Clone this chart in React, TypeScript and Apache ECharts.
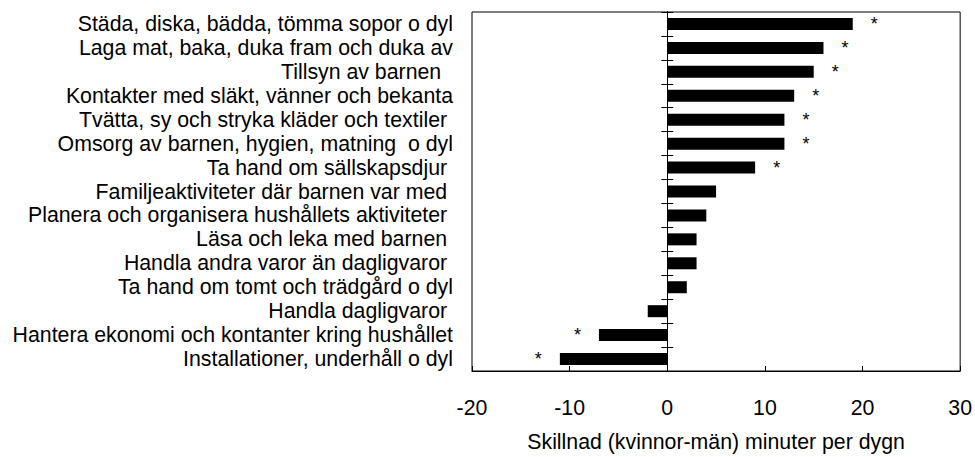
import React, { useEffect, useRef } from "react";
import * as echarts from "echarts";

const categories = [
  "Städa, diska, bädda, tömma sopor o dyl",
  "Laga mat, baka, duka fram och duka av",
  "Tillsyn av barnen  ",
  "Kontakter med släkt, vänner och bekanta",
  "Tvätta, sy och stryka kläder och textiler ",
  "Omsorg av barnen, hygien, matning  o dyl",
  "Ta hand om sällskapsdjur ",
  "Familjeaktiviteter där barnen var med ",
  "Planera och organisera hushållets aktiviteter ",
  "Läsa och leka med barnen ",
  "Handla andra varor än dagligvaror ",
  "Ta hand om tomt och trädgård o dyl",
  "Handla dagligvaror ",
  "Hantera ekonomi och kontanter kring hushållet",
  "Installationer, underhåll o dyl",
];
const values = [19, 16, 15, 13, 12, 12, 9, 5, 4, 3, 3, 2, -2, -7, -11];
const significant = [true, true, true, true, true, true, true, false, false, false, false, false, false, true, true];
const xTicks = { min: -20, max: 30, interval: 10 };
const axisTitle = "Skillnad (kvinnor-män) minuter per dygn";

const FONT = 'Arial, "Liberation Sans", sans-serif';

export default function App() {
  const ref = useRef<HTMLDivElement>(null);
  useEffect(() => {
    if (!ref.current) return;
    const chart = echarts.init(ref.current, null, { renderer: "svg" });
    const data = values.map((v, i) => ({
      value: v,
      label: {
        show: significant[i],
        position: v >= 0 ? "right" : "left",
        distance: 18,
        formatter: "*",
        color: "#000",
        fontSize: 18,
        fontFamily: FONT,
      },
    }));
    const catBase = {
      type: "category" as const,
      data: categories,
      inverse: true,
      position: "left" as const,
    };
    chart.setOption({
      animation: false,
      backgroundColor: "#fff",
      textStyle: { fontFamily: FONT },
      grid: {
        left: 472,
        right: 12,
        top: 12,
        bottom: 73,
        show: true,
        borderColor: "#000",
        borderWidth: 1,
        containLabel: false,
      },
      xAxis: {
        type: "value",
        min: xTicks.min,
        max: xTicks.max,
        interval: xTicks.interval,
        name: axisTitle,
        nameLocation: "middle",
        nameGap: 60,
        nameTextStyle: { color: "#000", fontSize: 21.3, fontFamily: FONT },
        axisLine: { show: true, lineStyle: { color: "#000", width: 1 } },
        axisTick: { show: true, inside: true, length: 5, lineStyle: { color: "#000" } },
        axisLabel: { color: "#000", fontSize: 21.3, fontFamily: FONT, margin: 26 },
        splitLine: { show: false },
      },
      yAxis: [
        {
          ...catBase,
          axisLine: { show: false, onZero: false },
          axisTick: { show: false },
          axisLabel: { color: "#000", fontSize: 21.3, fontFamily: FONT, margin: 19, interval: 0 },
          splitLine: { show: false },
        },
        {
          ...catBase,
          axisLine: { show: true, onZero: true, onZeroAxisIndex: 0, lineStyle: { color: "#000", width: 1 } },
          axisTick: { show: true, inside: true, length: 6, interval: 0, lineStyle: { color: "#000" } },
          axisLabel: { show: false },
          splitLine: { show: false },
        },
        {
          ...catBase,
          axisLine: { show: true, onZero: true, onZeroAxisIndex: 0, lineStyle: { color: "#000", width: 1 } },
          axisTick: { show: true, inside: false, length: 6, interval: 0, lineStyle: { color: "#000" } },
          axisLabel: { show: false },
          splitLine: { show: false },
        },
      ],
      series: [
        {
          type: "bar",
          yAxisIndex: 0,
          data,
          barWidth: 12,
          itemStyle: { color: "#000" },
        },
      ],
    });
    return () => chart.dispose();
  }, []);
  return (
    <div
      ref={ref}
      style={{ position: "fixed", left: 0, top: 0, width: 975, height: 457, background: "#fff" }}
    />
  );
}
